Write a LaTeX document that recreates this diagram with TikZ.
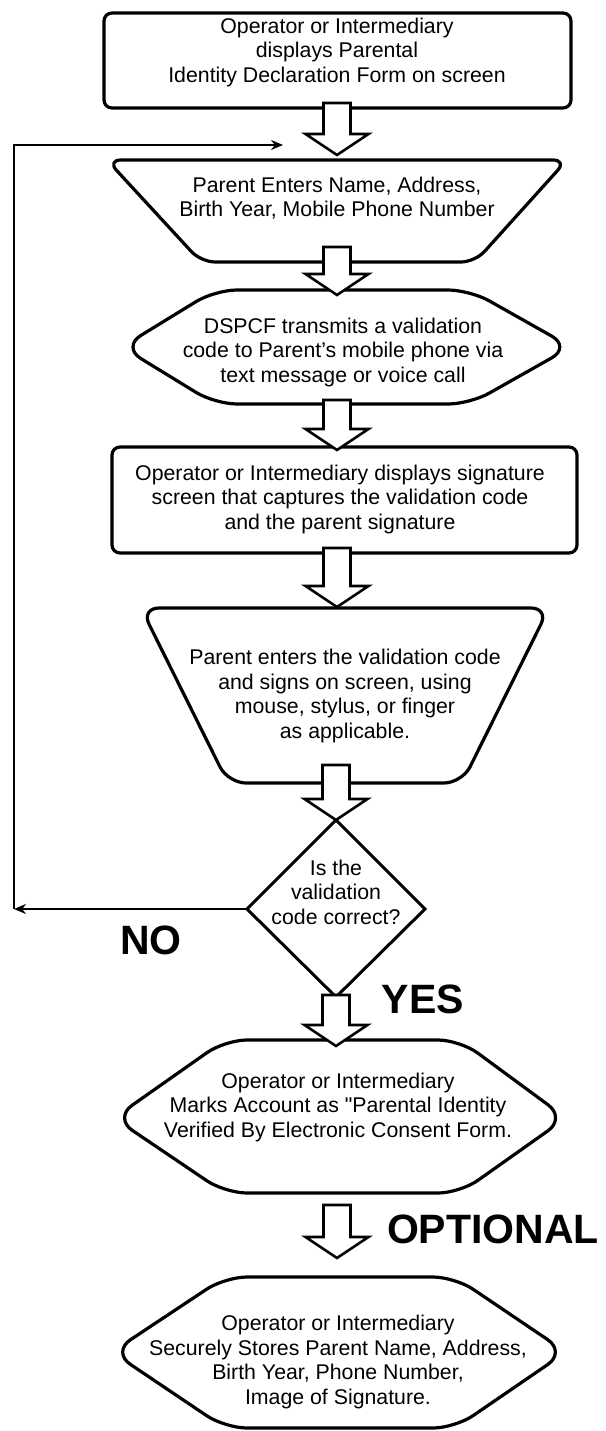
\documentclass[tikz,border=0pt]{standalone}
\usepackage{fontspec}
\setmainfont{Liberation Sans}
\newfontfamily\medfont{Liberation Sans}
\usetikzlibrary{arrows.meta}
\newcommand{\blockarrow}[3]{%
  \draw[hollow] (#1-13.5,#2) -- (#1+13.5,#2) -- (#1+13.5,#3-21) -- (#1+31.5,#3-21)
    -- (#1,#3) -- (#1-31.5,#3-21) -- (#1-13.5,#3-21) -- cycle;}
\begin{document}
\begin{tikzpicture}[x=1pt,y=-1pt,
  shapeline/.style={draw=black, line width=3.2pt, line join=round, rounded corners=14pt},
  txt/.style={align=center, font=\medfont\fontsize{21.3}{24.5}\selectfont, inner sep=0pt},
  big/.style={font=\fontsize{41}{41}\selectfont\bfseries, inner sep=0pt},
  hollow/.style={draw=black, fill=white, line width=2.6pt, line join=miter},
  fbline/.style={line width=2pt},
  fbtip/.style={-{Stealth[length=12pt,width=10pt]}}]
\useasboundingbox (0,0) rectangle (605,1431);
\fill[white] (0,0) rectangle (605,1431);

% shapes
\draw[shapeline, rounded corners=8pt] (104,13) rectangle (571,108);
\draw[shapeline] (107,160) -- (567,160) -- (475,262) -- (201,262) -- cycle;
\draw[shapeline, rounded corners=22pt] (122,347) -- (215,290) -- (470,290) -- (571,347) -- (470,404) -- (215,404) -- cycle;
\draw[shapeline, rounded corners=8pt] (112,447) rectangle (577,553);
\draw[shapeline, rounded corners=18pt] (141,608) -- (549,608) -- (462,783) -- (228,783) -- cycle;
\draw[line width=3pt, line join=miter] (336,820) -- (425,909) -- (336,997) -- (247,909) -- cycle;
\draw[shapeline, rounded corners=22pt] (114,1118) -- (225,1040) -- (460,1040) -- (566,1118) -- (460,1193) -- (225,1193) -- cycle;
\draw[shapeline, rounded corners=22pt] (112,1352) -- (225,1277) -- (455,1277) -- (566,1352) -- (455,1428) -- (225,1428) -- cycle;

% block arrows
\blockarrow{337}{103}{155}
\blockarrow{337}{247}{295}
\blockarrow{337}{400}{450}
\blockarrow{337}{548}{607}
\blockarrow{336}{765}{820}
\blockarrow{336}{995}{1046}
\blockarrow{337}{1205}{1258}

% texts
\node[txt] (t1) at (337,52) {Operator or Intermediary\\displays Parental\\Identity Declaration Form on screen};
\node[txt] (t2) at (337,198) {Parent Enters Name, Address,\\Birth Year, Mobile Phone Number};
\node[txt] (t3) at (343,352) {DSPCF transmits a validation\\code to Parent’s mobile phone via\\text message or voice call};
\node[txt] (t4) at (340,499) {Operator or Intermediary displays signature\\screen that captures the validation code\\and the parent signature};
\node[txt] (t5) at (345,696) {Parent enters the validation code\\and signs on screen, using\\mouse, stylus, or finger\\as applicable.};
\node[txt] (t6) at (336,892) {Is the\\validation\\code correct?};
\node[txt] (t7) at (338,1107) {Operator or Intermediary\\Marks Account as "Parental Identity\\Verified By Electronic Consent Form.};
\node[txt] (t8) at (338,1362) {Operator or Intermediary\\Securely Stores Parent Name, Address,\\Birth Year, Phone Number,\\Image of Signature.};

\node[big] (no) at (151,940) {NO};
\node[big] (yes) at (423,999) {YES};
\node[big] (opt) at (493,1229) {OPTIONAL};

% feedback loop
\coordinate (dw) at (247,909);
\coordinate (fbl) at (14,909);
\coordinate (fbt) at (14,145);
\coordinate (fbe) at (283,145);
\draw[fbline, fbtip] (dw) -- (fbl);
\draw[fbline, fbtip] (fbl) -- (fbt) -- (fbe);
\end{tikzpicture}
\end{document}
